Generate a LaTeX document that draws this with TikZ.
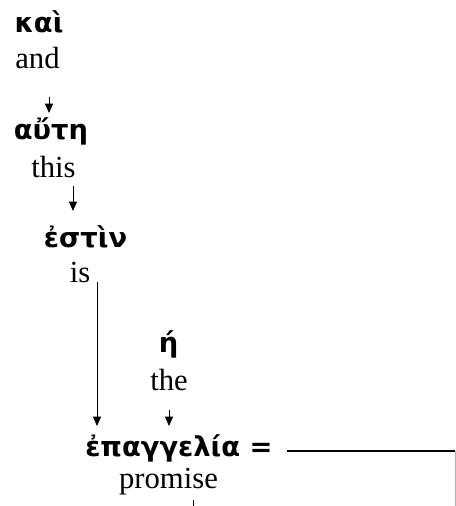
\documentclass[tikz,border=0pt]{standalone}
\usepackage{fontspec}
\setmainfont{Liberation Serif}
\newfontfamily\greekfont[Script=Greek]{DejaVu Sans}
\usetikzlibrary{arrows.meta}

\begin{document}
\begin{tikzpicture}[x=0.75pt,y=-0.75pt,>={Triangle[length=7pt,width=6pt]},
    greek/.style={font=\greekfont\bfseries\fontsize{20.5}{24}\selectfont,anchor=base,inner sep=0pt},
    gloss/.style={font=\fontsize{23}{27}\selectfont,anchor=base,inner sep=0pt},
    link/.style={line width=0.75pt}]
    % page size, in pixels of the reference (y runs downward)
    \useasboundingbox (0,0) rectangle (456,506);
    % Greek words with their English glosses
    \node[greek] (kai) at (39,33) {καὶ};
    \node[gloss] (and) at (37.5,69) {and};
    \node[greek] (aute) at (51,140) {αὔτη};
    \node[gloss] (this) at (53.5,177) {this};
    \node[greek] (estin) at (85.5,247) {ἐστὶν};
    \node[gloss] (is) at (80,282) {is};
    \node[greek] (he) at (168.5,352) {ή};
    \node[gloss] (the) at (169,390) {the};
    \node[greek,anchor=base west] (epangelia) at (85,456) {ἐπαγγελία =};
    \node[gloss] (promise) at (168.5,488) {promise};
    % arrow ends
    \coordinate (k1) at (49,97);   \coordinate (k2) at (49,113);
    \coordinate (t1) at (73,186);  \coordinate (t2) at (73,211);
    \coordinate (i1) at (97,282);  \coordinate (i2) at (97,426);
    \coordinate (h1) at (169,410); \coordinate (h2) at (169,426);
    % modifiers pointing down to their heads
    \draw[link,->] (k1) -- (k2);
    \draw[link,->] (t1) -- (t2);
    \draw[link,->] (i1) -- (i2);
    \draw[link,->] (h1) -- (h2);
    % predicate line, cut off at the page edge
    \coordinate (p1) at (287,451);
    \coordinate (p2) at (455,451);
    \coordinate (p3) at (455,506);
    \draw[line width=1.5pt] (p1) -- (p2);
    \draw[black!30,line width=0.75pt] (p2) -- (p3);
    \coordinate (q1) at (193,500);
    \coordinate (q2) at (193,506);
    \draw[link] (q1) -- (q2);
\end{tikzpicture}
\end{document}
